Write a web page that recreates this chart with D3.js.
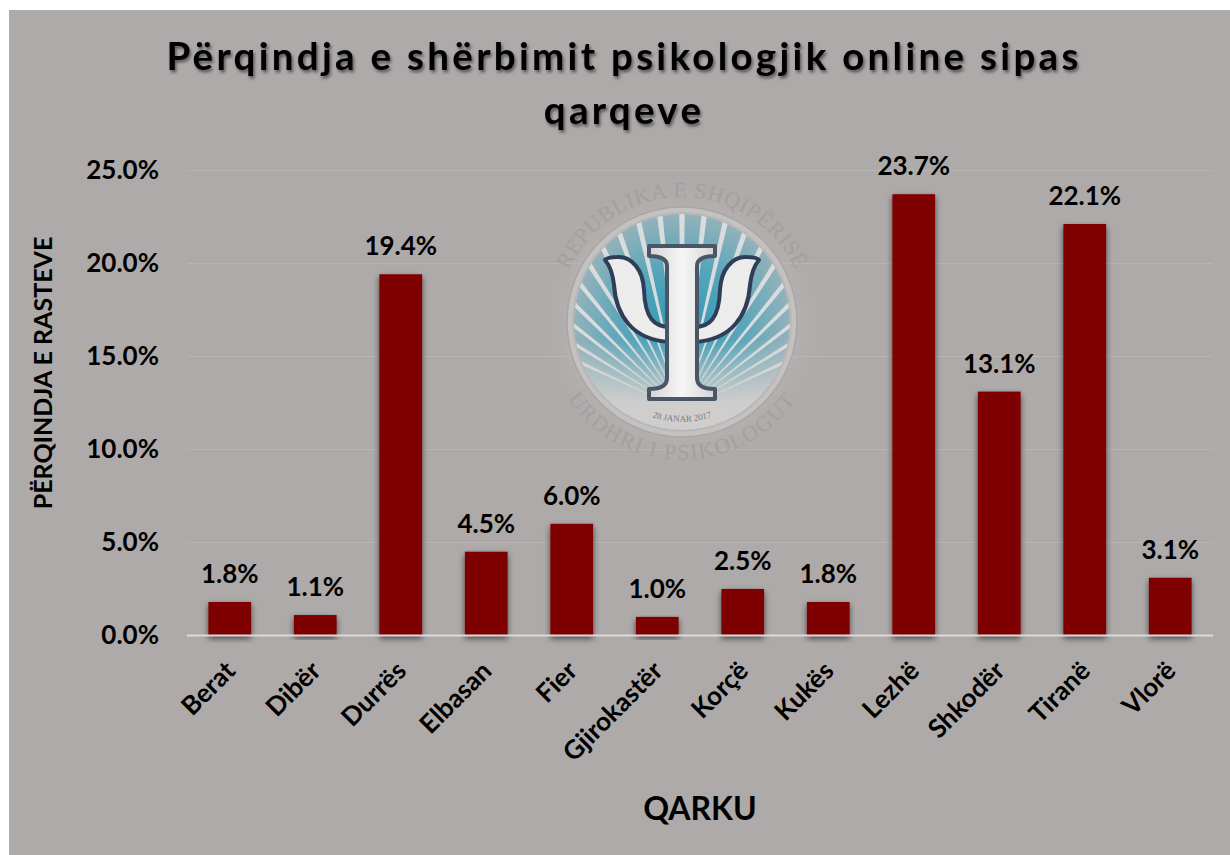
<!DOCTYPE html>
<html lang="en">
<head>
    <meta charset="UTF-8">
    <title>Përqindja e shërbimit psikologjik online sipas qarqeve</title>
    <script src="https://d3js.org/d3.v7.min.js"></script>
    <style>
        html, body { margin: 0; padding: 0; background: #fff; }
        svg { display: block; font-family: Lato, "Open Sans", sans-serif; font-weight: 700; fill: #000; }
        .grid line { stroke: #b8b5b4; stroke-width: 1px; }
        .axis-y text, .axis-x text, .value { font-family: Lato, "Open Sans", sans-serif; font-size: 26px; }
        .value { text-anchor: middle; }
    </style>
</head>
<body>
    <div id="chart"></div>
    <script>
        const categories = ["Berat", "Dibër", "Durrës", "Elbasan", "Fier", "Gjirokastër", "Korçë", "Kukës", "Lezhë", "Shkodër", "Tiranë", "Vlorë"];
        const values = [1.8, 1.1, 19.4, 4.5, 6.0, 1.0, 2.5, 1.8, 23.7, 13.1, 22.1, 3.1];
        const yTicks = [0, 5, 10, 15, 20, 25];
        const titleLines = ["Përqindja e shërbimit psikologjik online sipas", "qarqeve"];

        const width = 1230;
        const height = 855;
        const plot = { left: 187, right: 1213, top: 170, bottom: 635.5 };

        const svg = d3.select("#chart").append("svg")
            .attr("width", width)
            .attr("height", height);

        const defs = svg.append("defs");

        const barShadow = defs.append("filter").attr("id", "barShadow")
            .attr("x", "-30%").attr("width", "160%").attr("y", "-10%").attr("height", "130%");
        barShadow.append("feDropShadow")
            .attr("dx", 0).attr("dy", 3).attr("stdDeviation", 3)
            .attr("flood-color", "#000").attr("flood-opacity", 0.6);

        const titleShadow = defs.append("filter").attr("id", "titleShadow");
        titleShadow.append("feDropShadow")
            .attr("dx", 1.5).attr("dy", 2.5).attr("stdDeviation", 1.8)
            .attr("flood-color", "#000").attr("flood-opacity", 0.5);

        const glow = defs.append("radialGradient").attr("id", "logoGlow");
        glow.append("stop").attr("offset", "70%").attr("stop-color", "#c4c2c1").attr("stop-opacity", 0.9);
        glow.append("stop").attr("offset", "100%").attr("stop-color", "#aeaaa9").attr("stop-opacity", 0);

        const teal = defs.append("radialGradient").attr("id", "tealFill")
            .attr("gradientUnits", "userSpaceOnUse")
            .attr("cx", 682).attr("cy", 322).attr("r", 112);
        teal.append("stop").attr("offset", "0%").attr("stop-color", "#2c9ab6");
        teal.append("stop").attr("offset", "55%").attr("stop-color", "#5ba6ba");
        teal.append("stop").attr("offset", "100%").attr("stop-color", "#98b3bb");

        const stemFill = defs.append("linearGradient").attr("id", "psiFill");
        stemFill.append("stop").attr("offset", "0%").attr("stop-color", "#d4d4d4");
        stemFill.append("stop").attr("offset", "50%").attr("stop-color", "#f6f6f6");
        stemFill.append("stop").attr("offset", "100%").attr("stop-color", "#d4d4d4");

        // chart background
        svg.append("rect")
            .attr("x", 9).attr("y", 10)
            .attr("width", width - 9).attr("height", height - 10)
            .attr("fill", "#aeaaa9");

        const x = d3.scaleBand()
            .domain(categories)
            .range([plot.left, plot.right])
            .paddingInner(0.5)
            .paddingOuter(0.25);

        const y = d3.scaleLinear()
            .domain([0, 25])
            .range([plot.bottom, plot.top]);

        // gridlines
        svg.append("g").attr("class", "grid")
            .selectAll("line")
            .data(yTicks.slice(1))
            .join("line")
            .attr("x1", plot.left).attr("x2", plot.right)
            .attr("y1", d => Math.round(y(d)) + 0.5).attr("y2", d => Math.round(y(d)) + 0.5);

        drawLogo(svg.append("g"), 682, 322);

        // bars
        svg.append("g")
            .selectAll("rect")
            .data(values)
            .join("rect")
            .attr("x", (d, i) => x(categories[i]))
            .attr("y", d => y(d))
            .attr("width", x.bandwidth())
            .attr("height", d => y(0) - y(d))
            .attr("fill", "#7f0000")
            .attr("filter", "url(#barShadow)");

        // baseline
        svg.append("line")
            .attr("x1", plot.left).attr("x2", plot.right)
            .attr("y1", y(0)).attr("y2", y(0))
            .attr("stroke", "#dcdad9").attr("stroke-width", 2);

        // value labels
        svg.append("g")
            .selectAll("text")
            .data(values)
            .join("text")
            .attr("class", "value")
            .attr("x", (d, i) => x(categories[i]) + x.bandwidth() / 2)
            .attr("y", d => y(d) - 19)
            .text(d => d.toFixed(1) + "%");

        // y axis
        const yAxis = d3.axisLeft(y)
            .tickValues(yTicks)
            .tickSize(0)
            .tickPadding(28)
            .tickFormat(d => d.toFixed(1) + "%");
        svg.append("g").attr("class", "axis-y")
            .attr("transform", `translate(${plot.left},0)`)
            .call(yAxis)
            .call(g => g.select(".domain").remove());

        // x axis
        const xAxis = d3.axisBottom(x).tickSize(0).tickPadding(0);
        svg.append("g").attr("class", "axis-x")
            .attr("transform", `translate(0,${plot.bottom})`)
            .call(xAxis)
            .call(g => g.select(".domain").remove())
            .selectAll("text")
            .attr("text-anchor", "end")
            .attr("dy", 0)
            .attr("transform", "translate(7,37) rotate(-45)");

        // title
        svg.append("g")
            .attr("filter", "url(#titleShadow)")
            .selectAll("text")
            .data(titleLines)
            .join("text")
            .attr("x", 624)
            .attr("y", (d, i) => 70 + i * 54)
            .attr("text-anchor", "middle")
            .attr("font-size", 38.5)
            .attr("letter-spacing", 3.3)
            .text(d => d);

        // axis titles
        svg.append("text")
            .attr("transform", "translate(52,373) rotate(-90)")
            .attr("text-anchor", "middle")
            .attr("font-size", 25)
            .text("PËRQINDJA E RASTEVE");

        svg.append("text")
            .attr("x", 700).attr("y", 820)
            .attr("text-anchor", "middle")
            .attr("font-size", 32)
            .text("QARKU");

        // faded emblem behind the bars
        function drawLogo(g, cx, cy) {
            g.append("circle").attr("cx", cx).attr("cy", cy).attr("r", 152).attr("fill", "url(#logoGlow)").attr("opacity", 0.4);
            g.append("circle").attr("cx", cx).attr("cy", cy).attr("r", 115).attr("fill", "#c4c2c1");

            const clip = defs.append("clipPath").attr("id", "logoClip");
            clip.append("circle").attr("cx", cx).attr("cy", cy).attr("r", 108);
            g.append("circle").attr("cx", cx).attr("cy", cy).attr("r", 108).attr("fill", "url(#tealFill)");

            // rays fan out from below the centre
            const fan = g.append("g").attr("clip-path", "url(#logoClip)");
            const ox = cx, oy = cy + 88;
            d3.range(-65, 66, 6.5).forEach(a => {
                const t = (a - 0.8) * Math.PI / 180, u = (a + 0.8) * Math.PI / 180;
                fan.append("path")
                    .attr("d", `M${ox},${oy}L${ox + 260 * Math.sin(t)},${oy - 260 * Math.cos(t)}L${ox + 260 * Math.sin(u)},${oy - 260 * Math.cos(u)}Z`)
                    .attr("fill", "#d8dcdc");
            });
            // pale lower part of the disc
            const fade = defs.append("linearGradient").attr("id", "discFade").attr("x2", 0).attr("y2", 1);
            fade.append("stop").attr("offset", "58%").attr("stop-color", "#cfcecd").attr("stop-opacity", 0);
            fade.append("stop").attr("offset", "88%").attr("stop-color", "#cfcecd").attr("stop-opacity", 1);
            fan.append("circle").attr("cx", cx).attr("cy", cy).attr("r", 108).attr("fill", "url(#discFade)");

            g.append("circle").attr("cx", cx).attr("cy", cy).attr("r", 109).attr("fill", "none").attr("stroke", "#b9b6b5").attr("stroke-width", 1.5);
            g.append("circle").attr("cx", cx).attr("cy", cy).attr("r", 115).attr("fill", "none").attr("stroke", "#a9a6a5").attr("stroke-width", 1.5);

            // psi sign: arms first, then the stem over them
            const psi = g.append("g").attr("transform", `translate(${cx},0)`)
                .attr("stroke", "#2f3e58").attr("stroke-width", 4).attr("stroke-linejoin", "round");
            const arm = "M-77,260 Q-70,268 -68,285 C-66,315 -50,340 -12,342 L-12,327 C-28,327 -37,318 -38,290 C-39,270 -50,256 -65,257 Q-74,257 -77,260 Z";
            psi.append("path").attr("d", arm).attr("fill", "#ececec");
            psi.append("path").attr("d", arm).attr("fill", "#ececec").attr("transform", "scale(-1,1)");
            psi.append("path")
                .attr("d", "M-33,246 H33 V256 Q15,256 15,266 V378 Q15,389 33,389 V399 H-33 V389 Q-15,389 -15,378 V266 Q-15,256 -33,256 Z")
                .attr("fill", "url(#psiFill)").attr("stroke", "#4a5566");

            // lettering
            defs.append("path").attr("id", "arcTop")
                .attr("d", `M${cx - 119.5},${cy - 36.5} A125,125 0 0 1 ${cx + 119.5},${cy - 36.5}`);
            defs.append("path").attr("id", "arcBottom")
                .attr("d", `M${cx - 126},${cy + 56} A138,138 0 0 0 ${cx + 126},${cy + 56}`);
            defs.append("path").attr("id", "arcDate")
                .attr("d", `M${cx - 47},${cy + 88} A100,100 0 0 0 ${cx + 47},${cy + 88}`);

            const ring = g.append("g")
                .attr("font-family", "'Liberation Serif', serif")
                .attr("font-weight", 400)
                .attr("fill", "#a3a09f")
                .attr("text-anchor", "middle");
            ring.append("text").attr("font-size", 22).attr("letter-spacing", 0.6)
                .append("textPath").attr("href", "#arcTop").attr("startOffset", "50%")
                .text("REPUBLIKA E SHQIPËRISË");
            ring.append("text").attr("font-size", 22).attr("letter-spacing", 1.5)
                .append("textPath").attr("href", "#arcBottom").attr("startOffset", "50%")
                .text("URDHRI I PSIKOLOGUT");
            ring.append("text").attr("font-size", 9).attr("fill", "#7a7a7c")
                .append("textPath").attr("href", "#arcDate").attr("startOffset", "50%")
                .text("28 JANAR 2017");
        }
    </script>
</body>
</html>
